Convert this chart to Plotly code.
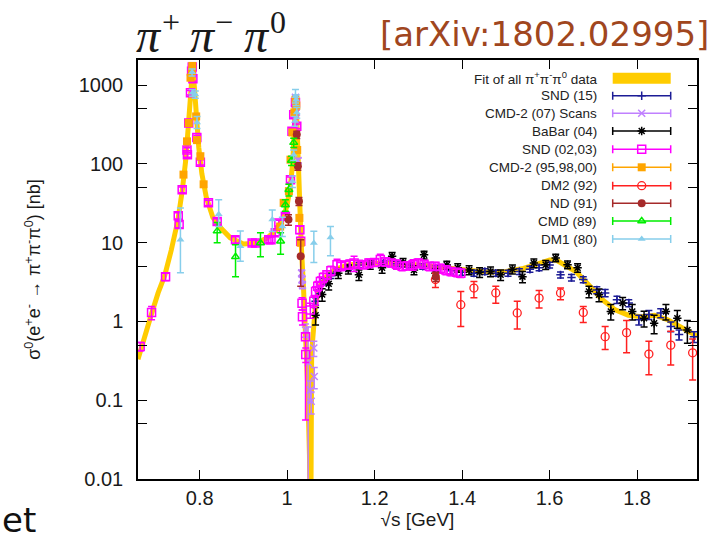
import plotly.graph_objects as go

# ---------------- data ----------------
fit_x = [0.659, 0.675, 0.69, 0.705, 0.72, 0.735, 0.75, 0.76, 0.768, 0.774, 0.778, 0.781, 0.7835,
         0.786, 0.789, 0.793, 0.798, 0.805, 0.815, 0.83, 0.85, 0.87, 0.9, 0.93, 0.955, 0.975, 0.99,
         1.0, 1.008, 1.013, 1.017, 1.0195, 1.022, 1.025, 1.028, 1.032, 1.037, 1.042, 1.047, 1.051,
         1.0535, 1.056, 1.06, 1.065, 1.075, 1.09, 1.11, 1.14, 1.18, 1.22, 1.26, 1.3, 1.34, 1.38,
         1.42, 1.46, 1.5, 1.54, 1.57, 1.6, 1.615, 1.635, 1.66, 1.68, 1.70, 1.72, 1.75, 1.78, 1.81,
         1.84, 1.87, 1.9, 1.937]
fit_y = [0.33, 0.7, 1.25, 2.3, 3.8, 8, 19, 45, 110, 300, 700, 1300, 1550,
         1300, 700, 330, 160, 75, 38, 21, 15, 11.5, 9.6, 9.8, 11.5, 14.5, 20,
         30, 55, 110, 350, 700, 380, 110, 35, 10, 3, 0.8, 0.15, 0.02,
         0.0005, 0.4, 1.0, 1.7, 2.8, 3.7, 4.6, 5.2, 5.5, 5.5, 5.4, 5.2, 4.9, 4.6,
         4.3, 4.2, 4.3, 4.7, 5.3, 6.0, 6.0, 5.2, 4.3, 3.3, 2.5, 1.9, 1.4, 1.2, 1.15,
         1.2, 1.05, 0.85, 0.65]

snd15_x = [1.065, 1.072, 1.085, 1.1, 1.114, 1.14, 1.165, 1.19, 1.22, 1.25, 1.28, 1.31, 1.34, 1.374,
           1.40, 1.427, 1.452, 1.477, 1.505, 1.531, 1.555, 1.576, 1.60, 1.625, 1.65, 1.677, 1.708,
           1.727, 1.754, 1.781, 1.804, 1.827, 1.854, 1.877, 1.896, 1.93]
snd15_y = [1.8, 2.5, 3.2, 3.8, 4.3, 4.8, 5.2, 5.5, 5.5, 5.4, 5.2, 5.0, 4.7, 4.4,
           4.2, 4.1, 4.3, 4.1, 4.1, 4.3, 4.6, 4.8, 5.2, 3.9, 3.6, 3.4, 2.5,
           2.3, 1.89, 1.71, 1.05, 1.22, 1.28, 0.86, 0.68, 0.64]
snd15_err = [0.2, 0.25, 0.3, 0.3, 0.35, 0.4, 0.4, 0.4, 0.4, 0.4, 0.4, 0.4, 0.4, 0.4,
             0.35, 0.35, 0.35, 0.35, 0.35, 0.35, 0.4, 0.4, 0.45, 0.35, 0.35, 0.3, 0.25,
             0.25, 0.2, 0.18, 0.15, 0.16, 0.17, 0.12, 0.1, 0.1]

cmd2s_x = [1.017, 1.019, 1.021, 1.025, 1.033, 1.034, 1.035, 1.042, 1.048, 1.053, 1.055, 1.061, 1.062]
cmd2s_y = [500, 700, 450, 110, 4.1, 3.4, 2.9, 0.78, 0.3, 0.135, 0.097, 0.46, 0.2]
cmd2s_err_hi = [30, 40, 30, 8, 0.4, 0.35, 0.3, 0.15, 0.55, 0.04, 0.03, 0.1, 0.06]
cmd2s_err_lo = [30, 40, 30, 8, 0.4, 0.35, 0.3, 0.15, 0.2999, 0.04, 0.03, 0.1, 0.06]

babar_x = [1.065, 1.08, 1.095, 1.117, 1.14, 1.164, 1.19, 1.217, 1.24, 1.265, 1.29, 1.313, 1.339,
           1.365, 1.39, 1.416, 1.44, 1.465, 1.488, 1.515, 1.538, 1.564, 1.591, 1.614, 1.641, 1.664,
           1.690, 1.713, 1.74, 1.767, 1.789, 1.816, 1.839, 1.866, 1.892, 1.915]
babar_y = [1.2, 2.2, 3.0, 4.1, 4.6, 3.9, 5.3, 4.8, 6.7, 5.6, 4.5, 7.0, 4.1,
           5.2, 4.8, 4.5, 4.2, 4.3, 3.9, 4.6, 3.7, 5.5, 5.25, 6.4, 5.25, 4.8,
           2.4, 2.18, 1.34, 1.71, 1.34, 1.1, 0.95, 1.34, 1.1, 0.78]
babar_err = [0.3, 0.4, 0.5, 0.6, 0.6, 0.6, 0.7, 0.7, 0.8, 0.7, 0.6, 0.8, 0.6,
             0.6, 0.6, 0.6, 0.6, 0.6, 0.6, 0.6, 0.6, 0.7, 0.7, 0.7, 0.6, 0.6,
             0.4, 0.4, 0.3, 0.3, 0.3, 0.25, 0.25, 0.3, 0.28, 0.25]

snd0203_x = [0.664, 0.690, 0.722, 0.751, 0.753, 0.760, 0.771, 0.772, 0.775, 0.779,
             0.7815, 0.783, 0.7845, 0.7935, 0.8016, 0.820, 0.840, 0.882, 0.920, 0.928,
             0.958, 0.963, 0.973, 0.981, 0.996, 1.0076, 1.011, 1.015, 1.019, 1.022,
             1.029, 1.031, 1.034, 1.035, 1.042, 1.0425, 1.053, 1.061, 1.065, 1.070,
             1.076, 1.083, 1.091, 1.100, 1.114, 1.123, 1.133, 1.143, 1.153, 1.163,
             1.175, 1.187, 1.200, 1.213, 1.225, 1.238, 1.250, 1.263, 1.275, 1.288,
             1.300, 1.313, 1.325, 1.338, 1.350, 1.363, 1.375, 1.388, 1.397]
snd0203_y = [0.48, 1.3, 3.7, 22, 17, 47, 150, 130, 330, 800,
             1500, 1700, 1200, 216, 105, 32, 18.6, 10.9, 9.9, 9.9,
             10.9, 10.9, 13.3, 17.8, 21.6, 63, 260, 420, 600, 300,
             14.6, 10.4, 1.7, 1.15, 0.64, 0.38, 1.4, 1.8, 2.4, 2.8,
             3.2, 3.6, 3.9, 4.4, 5.25, 5.0, 5.2, 5.3, 5.5, 5.3,
             5.25, 5.5, 5.6, 6.1, 5.7, 5.5, 5.3, 5.0, 5.1, 5.25,
             5.5, 5.3, 5.0, 5.0, 4.7, 4.5, 4.3, 4.2, 4.1]
snd0203_err_hi = [0.06, 0.25, 0.4, 2, 1.6, 4, 10, 9, 20, 50,
                  90, 100, 80, 15, 8, 2.5, 1.5, 1.0, 0.8, 0.8,
                  0.9, 0.9, 1.1, 1.4, 1.6, 5, 18, 30, 40, 20,
                  1.5, 1.2, 0.3, 0.25, 0.08, 0.08, 0.3, 0.3, 0.35, 0.4,
                  0.45, 0.5, 0.5, 0.6, 0.9, 0.6, 0.6, 0.7, 1.2, 0.6,
                  0.6, 0.7, 0.6, 1.0, 0.7, 0.6, 0.7, 0.6, 0.6, 0.8,
                  0.7, 0.6, 0.6, 0.6, 0.6, 0.6, 0.5, 0.5, 0.5]
snd0203_err_lo = [0.06, 0.25, 0.4, 2, 1.6, 4, 10, 9, 20, 50,
                  90, 100, 80, 15, 8, 2.5, 1.5, 1.0, 0.8, 0.8,
                  0.9, 0.9, 1.1, 1.4, 1.6, 5, 18, 30, 40, 20,
                  1.5, 1.2, 0.3, 0.25, 0.584, 0.08, 0.3, 0.3, 0.35, 0.4,
                  0.45, 0.5, 0.5, 0.6, 0.9, 0.6, 0.6, 0.7, 1.2, 0.6,
                  0.6, 0.7, 0.6, 1.0, 0.7, 0.6, 0.7, 0.6, 0.6, 0.8,
                  0.7, 0.6, 0.6, 0.6, 0.6, 0.6, 0.5, 0.5, 0.5]

cmd2_x = [0.763, 0.771, 0.775, 0.779, 0.7822, 0.7832, 0.792, 0.794, 0.8016, 0.809,
          0.984, 0.992, 1.004, 1.0076, 1.012, 1.0165, 1.019, 1.021, 1.023, 1.028, 1.031]
cmd2_y = [73, 193, 330, 1240, 1500, 1750, 400, 200, 125, 55,
          16, 32, 45, 113, 250, 450, 650, 550, 150, 20.6, 10]
cmd2_err = [5, 12, 20, 70, 80, 90, 25, 12, 8, 4,
            1.2, 2.5, 3.5, 8, 15, 25, 35, 30, 10, 1.6, 0.8]

dm2_x = [1.339, 1.397, 1.427, 1.477, 1.526, 1.576, 1.625, 1.677, 1.727, 1.776, 1.827, 1.877, 1.927]
dm2_y = [3.4, 1.63, 2.65, 2.3, 1.28, 1.98, 2.3, 1.3, 0.64, 0.72, 0.385, 0.5, 0.40]
dm2_err_hi = [0.7, 0.77, 0.55, 0.5, 0.52, 0.49, 0.35, 0.25, 0.22, 0.31, 0.175, 0.25, 0.2]
dm2_err_lo = [0.7, 0.77, 0.65, 0.6, 0.48, 0.5, 0.41, 0.33, 0.2, 0.32, 0.175, 0.22, 0.22]

nd_x = [1.003, 1.022, 1.0245, 1.027, 1.031, 1.34]
nd_y = [19.6, 235, 93, 33.5, 6.7, 3.7]
nd_err_hi = [3, 25, 10, 4, 4.2, 0.5]
nd_err_lo = [3, 25, 10, 4, 3.9, 0.5]

cmd_x = [0.840, 0.882, 0.939, 0.985, 0.996, 1.004, 1.010, 1.015]
cmd_y = [14, 6.6, 9.9, 10.4, 30, 47, 110, 186]
cmd_err_hi = [4, 2.8, 3.4, 2.9, 5, 8, 15, 25]
cmd_err_lo = [4, 2.9, 3.3, 3.3, 5, 8, 15, 25]

dm1_x = [0.756, 0.7826, 0.7835, 0.790, 0.794, 0.8435, 0.893, 0.966, 0.989,
         1.012, 1.015, 1.018, 1.019, 1.0205, 1.022, 1.061, 1.099]
dm1_y = [10.9, 1450, 800, 760, 335, 23, 9, 19.6, 16,
         60, 130, 350, 720, 650, 450, 9.9, 11.6]
dm1_err_hi = [16.6, 150, 80, 80, 65, 12, 5, 6.4, 5, 10, 20, 50, 160, 100, 70, 4, 4.4]
dm1_err_lo = [6.75, 150, 80, 80, 55, 7, 3.2, 5.8, 4, 10, 20, 50, 130, 100, 70, 4.3, 4.8]

legend_labels = ["Fit of all π<sup>+</sup>π<sup>-</sup>π<sup>0</sup> data", "SND (15)",
                 "CMD-2 (07) Scans", "BaBar (04)", "SND (02,03)", "CMD-2 (95,98,00)",
                 "DM2 (92)", "ND (91)", "CMD (89)", "DM1 (80)"]
title_base = ["π", "π", "π"]
title_sups = ["+", "−", "0"]
y_tickvals = [0.01, 0.05, 0.1, 0.5, 1, 5, 10, 50, 100, 500, 1000]
y_ticktext = ["0.01", "", "0.1", "", "1", "", "10", "", "100", "", "1000"]
x_tickvals = [0.8, 1.0, 1.2, 1.4, 1.6, 1.8]
x_ticktext = ["0.8", "1", "1.2", "1.4", "1.6", "1.8"]

# ---------------- layout geometry ----------------
W, H = 712, 547
L, R, T, B = 138, 15, 60, 68
PW, PH = W - L - R, H - T - B


def fx(px):
    return (px - L) / PW


def fy(py):
    return (H - B - py) / PH


FIT_C = "#ffcc00"
styles = [
    ("SND (15)", "#1c1c96", "cross-thin", 6, 1.5),
    ("CMD-2 (07) Scans", "#c080ff", "x-thin", 7, 1.5),
    ("BaBar (04)", "#000000", "asterisk", 7, 1.5),
    ("SND (02,03)", "#ff00ff", "square-open", 8, 1.5),
    ("CMD-2 (95,98,00)", "#ffa500", "square", 8, 0),
    ("DM2 (92)", "#ff2020", "circle-open", 8, 1.3),
    ("ND (91)", "#a52a2a", "circle", 8, 0),
    ("CMD (89)", "#00ee00", "triangle-up-open", 7, 1.5),
    ("DM1 (80)", "#87ceeb", "triangle-up", 7, 0),
]

series = [
    (snd15_x, snd15_y, snd15_err, snd15_err),
    (cmd2s_x, cmd2s_y, cmd2s_err_hi, cmd2s_err_lo),
    (babar_x, babar_y, babar_err, babar_err),
    (snd0203_x, snd0203_y, snd0203_err_hi, snd0203_err_lo),
    (cmd2_x, cmd2_y, cmd2_err, cmd2_err),
    (dm2_x, dm2_y, dm2_err_hi, dm2_err_lo),
    (nd_x, nd_y, nd_err_hi, nd_err_lo),
    (cmd_x, cmd_y, cmd_err_hi, cmd_err_lo),
    (dm1_x, dm1_y, dm1_err_hi, dm1_err_lo),
]

fig = go.Figure()

fig.add_trace(go.Scatter(x=fit_x, y=fit_y, mode="lines",
                         line=dict(color=FIT_C, width=5), showlegend=False,
                         hoverinfo="skip"))

for (name, col, sym, size, lw), (xs, ys, eh, el) in zip(styles, series):
    fig.add_trace(go.Scatter(
        x=xs, y=ys, mode="markers", name=name, showlegend=False,
        marker=dict(symbol=sym, size=size, color=col,
                    line=dict(color=col, width=lw)),
        error_y=dict(type="data", symmetric=False, array=eh, arrayminus=el,
                     color=col, thickness=1.5, width=3.5),
    ))

# ---------------- custom legend (text left, sample right) ----------------
row_y = [78.3, 95.7, 113.3, 131, 149.3, 167.3, 185.7, 203.3, 221, 239]
text_right = 599
samp_l, samp_r = 612.7, 670.7
samp_c = (samp_l + samp_r) / 2
half = (samp_r - samp_l) / 2 / PW

annotations = []
for lab, ry in zip(legend_labels, row_y):
    annotations.append(dict(x=fx(text_right), y=fy(ry), xref="paper", yref="paper",
                            text=lab, showarrow=False, xanchor="right", yanchor="middle",
                            font=dict(family="Liberation Sans", size=13.5, color="#222222")))

shapes = [dict(type="rect", xref="paper", yref="paper",
               x0=fx(samp_l), x1=fx(samp_r), y0=fy(row_y[0] + 5.5), y1=fy(row_y[0] - 5.5),
               fillcolor=FIT_C, line=dict(width=0))]

for (name, col, sym, size, lw), ry in zip(styles, row_y[1:]):
    fig.add_trace(go.Scatter(
        x=[fx(samp_c)], y=[fy(ry)], xaxis="x2", yaxis="y2", mode="markers",
        showlegend=False, hoverinfo="skip",
        marker=dict(symbol=sym, size=size, color=col, line=dict(color=col, width=lw)),
        error_x=dict(type="constant", value=half, color=col, thickness=1.5, width=4),
    ))

# ---------------- slide texts ----------------
base_left = [134, 188, 242]
sup_left = [160, 213, 268]
for t, bx in zip(title_base, base_left):
    annotations.append(dict(x=fx(bx), y=fy(36), xref="paper", yref="paper",
                            text="<i>" + t + "</i>", showarrow=False,
                            xanchor="left", yanchor="middle",
                            font=dict(family="Liberation Serif", size=48, color="#1a1a1a")))
for t, sx in zip(title_sups, sup_left):
    annotations.append(dict(x=fx(sx), y=fy(22), xref="paper", yref="paper",
                            text=t, showarrow=False, xanchor="left", yanchor="middle",
                            font=dict(family="Liberation Serif", size=32, color="#1a1a1a")))
annotations.append(dict(x=fx(711), y=fy(34), xref="paper", yref="paper",
                        text="[arXiv:1802.02995]", showarrow=False,
                        xanchor="right", yanchor="middle",
                        font=dict(family="DejaVu Sans", size=34, color="#a0461e")))
annotations.append(dict(x=fx(0), y=fy(520), xref="paper", yref="paper",
                        text="et", showarrow=False, xanchor="left", yanchor="middle",
                        font=dict(family="DejaVu Sans", size=34, color="#111111")))

tick_font = dict(family="Liberation Sans", size=20, color="#1a1a1a")

fig.update_layout(
    width=W, height=H,
    margin=dict(l=L, r=R, t=T, b=B, pad=0),
    paper_bgcolor="white", plot_bgcolor="white",
    showlegend=False,
    xaxis=dict(range=[0.659, 1.937], tickvals=x_tickvals, ticktext=x_ticktext,
               ticks="inside", ticklen=9, tickwidth=1.3, tickcolor="#000",
               showline=True, linecolor="#000", linewidth=1.5, mirror="allticks",
               showgrid=False, zeroline=False, tickfont=tick_font,
               ticklabelstandoff=0,
               title=dict(text="√s [GeV]", font=dict(family="Liberation Sans", size=19,
                                                     color="#1a1a1a"), standoff=2)),
    yaxis=dict(type="log", range=[-2, 3.318], tickvals=y_tickvals, ticktext=y_ticktext,
               ticks="inside", ticklen=9, tickwidth=1.3, tickcolor="#000",
               showline=True, linecolor="#000", linewidth=1.5, mirror="allticks",
               showgrid=False, zeroline=False, tickfont=tick_font,
               ticklabelstandoff=9,
               title=dict(text="σ<sup>0</sup>(e<sup>+</sup>e<sup>-</sup> → π<sup>+</sup>π<sup>-</sup>π<sup>0</sup>) [nb]",
                          font=dict(family="Liberation Sans", size=18, color="#1a1a1a"),
                          standoff=33)),
    xaxis2=dict(overlaying="x", range=[0, 1], visible=False, anchor="y2", fixedrange=True),
    yaxis2=dict(overlaying="y", range=[0, 1], visible=False, anchor="x2", fixedrange=True),
    annotations=annotations,
    shapes=shapes,
)

fig.write_html("out.html", config={"displayModeBar": False},
               post_script="document.body.style.margin='0';")
